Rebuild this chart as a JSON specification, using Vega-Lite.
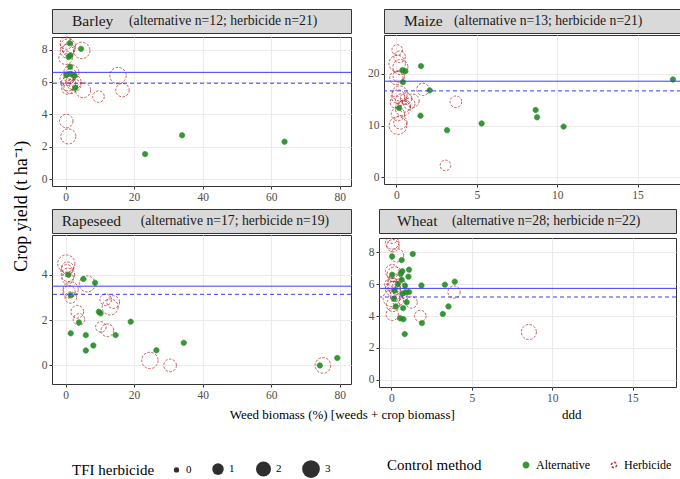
{
  "$schema": "https://vega.github.io/schema/vega-lite/v6.json",
  "background": "white",
  "padding": {"left": 12, "top": 8, "right": 0, "bottom": 2},
  "config": {
    "font": "Liberation Serif, Tinos, Times New Roman, serif",
    "view": {"stroke": "#333333", "strokeWidth": 1},
    "text": {"font": "Liberation Serif, Tinos, Times New Roman, serif"},
    "style": {"guide-label": {"font": "Liberation Serif, Tinos, Times New Roman, serif"}, "guide-title": {"font": "Liberation Serif, Tinos, Times New Roman, serif"}},
    "axis": {"domain": false, "grid": true, "gridColor": "#ebebeb", "gridWidth": 1, "labelColor": "#4d4d4d", "labelFontSize": 11.5, "labelFont": "Liberation Serif, Tinos, Times New Roman, serif", "tickColor": "#333333", "tickSize": 3, "labelPadding": 2, "tickWidth": 1},
    "legend": {"titleOrient": "left", "direction": "horizontal", "titleFont": "Liberation Serif, Tinos, Times New Roman, serif", "titleFontSize": 15, "titleFontWeight": "normal", "titleColor": "black", "labelFont": "Liberation Serif, Tinos, Times New Roman, serif", "labelFontSize": 11, "labelColor": "black"},
    "title": {"fontWeight": "normal", "fontSize": 14, "font": "Liberation Serif, Tinos, Times New Roman, serif", "color": "black"}
  },
  "datasets": {
    "strips": [
      {"crop": "Barley", "info": "(alternative n=12; herbicide n=21)"},
      {"crop": "Maize", "info": "(alternative n=13; herbicide n=21)"},
      {"crop": "Rapeseed", "info": "(alternative n=17; herbicide n=19)"},
      {"crop": "Wheat", "info": "(alternative n=28; herbicide n=22)"}
    ],
    "means": [
      {"crop": "Barley", "herbicide_mean": 6.6, "alternative_mean": 5.93},
      {"crop": "Maize", "herbicide_mean": 18.57, "alternative_mean": 16.7},
      {"crop": "Rapeseed", "herbicide_mean": 3.5, "alternative_mean": 3.14},
      {"crop": "Wheat", "herbicide_mean": 5.73, "alternative_mean": 5.19}
    ],
    "points": [
      {"crop":"Barley","method":"Herbicide","tfi":2.0,"weed":0.7,"yield":8.2},
      {"crop":"Barley","method":"Herbicide","tfi":1.5,"weed":0.4,"yield":7.9},
      {"crop":"Barley","method":"Herbicide","tfi":1.5,"weed":0.0,"yield":7.5},
      {"crop":"Barley","method":"Herbicide","tfi":1.2,"weed":0.9,"yield":8.0},
      {"crop":"Barley","method":"Herbicide","tfi":2.5,"weed":4.7,"yield":7.95},
      {"crop":"Barley","method":"Herbicide","tfi":2.0,"weed":1.7,"yield":6.6},
      {"crop":"Barley","method":"Herbicide","tfi":1.5,"weed":0.3,"yield":6.2},
      {"crop":"Barley","method":"Herbicide","tfi":1.8,"weed":0.8,"yield":5.9},
      {"crop":"Barley","method":"Herbicide","tfi":1.5,"weed":1.5,"yield":5.7},
      {"crop":"Barley","method":"Herbicide","tfi":2.0,"weed":2.3,"yield":6.0},
      {"crop":"Barley","method":"Herbicide","tfi":1.0,"weed":0.5,"yield":5.6},
      {"crop":"Barley","method":"Herbicide","tfi":1.0,"weed":1.2,"yield":6.3},
      {"crop":"Barley","method":"Herbicide","tfi":2.0,"weed":5.1,"yield":5.5},
      {"crop":"Barley","method":"Herbicide","tfi":2.5,"weed":15.3,"yield":6.4},
      {"crop":"Barley","method":"Herbicide","tfi":1.5,"weed":16.6,"yield":5.5},
      {"crop":"Barley","method":"Herbicide","tfi":1.0,"weed":9.6,"yield":5.1},
      {"crop":"Barley","method":"Herbicide","tfi":1.5,"weed":0.2,"yield":3.6},
      {"crop":"Barley","method":"Herbicide","tfi":2.0,"weed":0.8,"yield":2.65},
      {"crop":"Barley","method":"Herbicide","tfi":1.2,"weed":0.2,"yield":8.4},
      {"crop":"Barley","method":"Herbicide","tfi":0.8,"weed":1.5,"yield":6.5},
      {"crop":"Barley","method":"Herbicide","tfi":1.0,"weed":2.8,"yield":5.8},
      {"crop":"Maize","method":"Herbicide","tfi":0.8,"weed":0.05,"yield":24.6},
      {"crop":"Maize","method":"Herbicide","tfi":1.0,"weed":0.2,"yield":23.3},
      {"crop":"Maize","method":"Herbicide","tfi":2.5,"weed":0.05,"yield":22.0},
      {"crop":"Maize","method":"Herbicide","tfi":2.0,"weed":0.25,"yield":21.3},
      {"crop":"Maize","method":"Herbicide","tfi":1.5,"weed":0.0,"yield":19.2},
      {"crop":"Maize","method":"Herbicide","tfi":1.2,"weed":1.65,"yield":17.0},
      {"crop":"Maize","method":"Herbicide","tfi":2.0,"weed":0.2,"yield":16.2},
      {"crop":"Maize","method":"Herbicide","tfi":1.5,"weed":0.1,"yield":15.6},
      {"crop":"Maize","method":"Herbicide","tfi":1.5,"weed":1.0,"yield":14.8},
      {"crop":"Maize","method":"Herbicide","tfi":1.0,"weed":0.6,"yield":15.2},
      {"crop":"Maize","method":"Herbicide","tfi":1.0,"weed":3.7,"yield":14.6},
      {"crop":"Maize","method":"Herbicide","tfi":1.2,"weed":0.0,"yield":14.5},
      {"crop":"Maize","method":"Herbicide","tfi":2.0,"weed":0.4,"yield":13.3},
      {"crop":"Maize","method":"Herbicide","tfi":1.5,"weed":0.1,"yield":12.2},
      {"crop":"Maize","method":"Herbicide","tfi":3.0,"weed":0.1,"yield":10.0},
      {"crop":"Maize","method":"Herbicide","tfi":1.5,"weed":0.25,"yield":10.6},
      {"crop":"Maize","method":"Herbicide","tfi":0.8,"weed":3.05,"yield":2.3},
      {"crop":"Maize","method":"Herbicide","tfi":1.0,"weed":0.8,"yield":14.2},
      {"crop":"Maize","method":"Herbicide","tfi":1.0,"weed":0.3,"yield":15.0},
      {"crop":"Maize","method":"Herbicide","tfi":1.2,"weed":0.5,"yield":13.8},
      {"crop":"Maize","method":"Herbicide","tfi":1.0,"weed":0.15,"yield":19.5},
      {"crop":"Rapeseed","method":"Herbicide","tfi":2.8,"weed":0.2,"yield":4.5},
      {"crop":"Rapeseed","method":"Herbicide","tfi":1.2,"weed":0.6,"yield":4.3},
      {"crop":"Rapeseed","method":"Herbicide","tfi":1.5,"weed":0.7,"yield":4.0},
      {"crop":"Rapeseed","method":"Herbicide","tfi":1.0,"weed":0.6,"yield":3.85},
      {"crop":"Rapeseed","method":"Herbicide","tfi":2.3,"weed":6.3,"yield":3.6},
      {"crop":"Rapeseed","method":"Herbicide","tfi":2.0,"weed":1.5,"yield":3.36},
      {"crop":"Rapeseed","method":"Herbicide","tfi":1.0,"weed":1.5,"yield":3.0},
      {"crop":"Rapeseed","method":"Herbicide","tfi":1.3,"weed":3.4,"yield":2.37},
      {"crop":"Rapeseed","method":"Herbicide","tfi":1.0,"weed":3.9,"yield":2.03},
      {"crop":"Rapeseed","method":"Herbicide","tfi":1.0,"weed":11.7,"yield":2.9},
      {"crop":"Rapeseed","method":"Herbicide","tfi":1.3,"weed":13.9,"yield":2.8},
      {"crop":"Rapeseed","method":"Herbicide","tfi":2.3,"weed":13.0,"yield":2.58},
      {"crop":"Rapeseed","method":"Herbicide","tfi":0.8,"weed":10.3,"yield":1.7},
      {"crop":"Rapeseed","method":"Herbicide","tfi":1.3,"weed":12.2,"yield":1.55},
      {"crop":"Rapeseed","method":"Herbicide","tfi":2.5,"weed":24.6,"yield":0.22},
      {"crop":"Rapeseed","method":"Herbicide","tfi":1.3,"weed":30.5,"yield":0.0},
      {"crop":"Rapeseed","method":"Herbicide","tfi":2.2,"weed":75.1,"yield":0.0},
      {"crop":"Rapeseed","method":"Herbicide","tfi":1.0,"weed":0.3,"yield":4.2},
      {"crop":"Rapeseed","method":"Herbicide","tfi":1.2,"weed":1.0,"yield":3.25},
      {"crop":"Wheat","method":"Herbicide","tfi":1.0,"weed":0.05,"yield":8.9},
      {"crop":"Wheat","method":"Herbicide","tfi":1.5,"weed":0.05,"yield":8.6},
      {"crop":"Wheat","method":"Herbicide","tfi":1.2,"weed":0.1,"yield":8.4},
      {"crop":"Wheat","method":"Herbicide","tfi":1.5,"weed":0.35,"yield":7.8},
      {"crop":"Wheat","method":"Herbicide","tfi":1.5,"weed":0.05,"yield":6.8},
      {"crop":"Wheat","method":"Herbicide","tfi":2.0,"weed":0.2,"yield":6.6},
      {"crop":"Wheat","method":"Herbicide","tfi":1.5,"weed":0.0,"yield":5.95},
      {"crop":"Wheat","method":"Herbicide","tfi":2.0,"weed":0.1,"yield":5.7},
      {"crop":"Wheat","method":"Herbicide","tfi":2.0,"weed":0.6,"yield":5.55},
      {"crop":"Wheat","method":"Herbicide","tfi":1.2,"weed":0.3,"yield":5.3},
      {"crop":"Wheat","method":"Herbicide","tfi":2.5,"weed":0.0,"yield":5.1},
      {"crop":"Wheat","method":"Herbicide","tfi":1.0,"weed":1.25,"yield":4.85},
      {"crop":"Wheat","method":"Herbicide","tfi":1.5,"weed":0.1,"yield":4.7},
      {"crop":"Wheat","method":"Herbicide","tfi":1.2,"weed":0.05,"yield":4.1},
      {"crop":"Wheat","method":"Herbicide","tfi":1.0,"weed":1.8,"yield":4.0},
      {"crop":"Wheat","method":"Herbicide","tfi":1.2,"weed":3.9,"yield":5.5},
      {"crop":"Wheat","method":"Herbicide","tfi":2.0,"weed":8.55,"yield":3.0},
      {"crop":"Wheat","method":"Herbicide","tfi":1.5,"weed":0.2,"yield":6.2},
      {"crop":"Wheat","method":"Herbicide","tfi":1.0,"weed":0.1,"yield":6.0},
      {"crop":"Wheat","method":"Herbicide","tfi":1.5,"weed":0.5,"yield":5.9},
      {"crop":"Wheat","method":"Herbicide","tfi":1.0,"weed":0.4,"yield":5.0},
      {"crop":"Wheat","method":"Herbicide","tfi":1.2,"weed":0.15,"yield":5.8},
      {"crop":"Barley","method":"Alternative","tfi":0,"weed":1.2,"yield":8.4},
      {"crop":"Barley","method":"Alternative","tfi":0,"weed":4.5,"yield":8.05},
      {"crop":"Barley","method":"Alternative","tfi":0,"weed":1.4,"yield":7.65},
      {"crop":"Barley","method":"Alternative","tfi":0,"weed":0.9,"yield":7.55},
      {"crop":"Barley","method":"Alternative","tfi":0,"weed":1.3,"yield":6.95},
      {"crop":"Barley","method":"Alternative","tfi":0,"weed":0.2,"yield":6.45},
      {"crop":"Barley","method":"Alternative","tfi":0,"weed":2.6,"yield":6.4},
      {"crop":"Barley","method":"Alternative","tfi":0,"weed":1.5,"yield":6.5},
      {"crop":"Barley","method":"Alternative","tfi":0,"weed":2.8,"yield":5.65},
      {"crop":"Barley","method":"Alternative","tfi":0,"weed":23.2,"yield":1.56},
      {"crop":"Barley","method":"Alternative","tfi":0,"weed":34.0,"yield":2.72},
      {"crop":"Barley","method":"Alternative","tfi":0,"weed":63.9,"yield":2.32},
      {"crop":"Maize","method":"Alternative","tfi":0,"weed":0.37,"yield":20.7},
      {"crop":"Maize","method":"Alternative","tfi":0,"weed":0.56,"yield":20.5},
      {"crop":"Maize","method":"Alternative","tfi":0,"weed":1.53,"yield":21.5},
      {"crop":"Maize","method":"Alternative","tfi":0,"weed":0.41,"yield":18.4},
      {"crop":"Maize","method":"Alternative","tfi":0,"weed":2.07,"yield":16.8},
      {"crop":"Maize","method":"Alternative","tfi":0,"weed":0.17,"yield":13.4},
      {"crop":"Maize","method":"Alternative","tfi":0,"weed":1.5,"yield":11.9},
      {"crop":"Maize","method":"Alternative","tfi":0,"weed":3.15,"yield":9.1},
      {"crop":"Maize","method":"Alternative","tfi":0,"weed":5.3,"yield":10.4},
      {"crop":"Maize","method":"Alternative","tfi":0,"weed":8.66,"yield":13.0},
      {"crop":"Maize","method":"Alternative","tfi":0,"weed":8.75,"yield":11.6},
      {"crop":"Maize","method":"Alternative","tfi":0,"weed":10.4,"yield":9.8},
      {"crop":"Maize","method":"Alternative","tfi":0,"weed":17.2,"yield":18.9},
      {"crop":"Rapeseed","method":"Alternative","tfi":0,"weed":0.8,"yield":4.0},
      {"crop":"Rapeseed","method":"Alternative","tfi":0,"weed":5.2,"yield":3.82},
      {"crop":"Rapeseed","method":"Alternative","tfi":0,"weed":8.6,"yield":3.65},
      {"crop":"Rapeseed","method":"Alternative","tfi":0,"weed":1.5,"yield":3.1},
      {"crop":"Rapeseed","method":"Alternative","tfi":0,"weed":9.7,"yield":2.37},
      {"crop":"Rapeseed","method":"Alternative","tfi":0,"weed":10.2,"yield":2.3},
      {"crop":"Rapeseed","method":"Alternative","tfi":0,"weed":3.9,"yield":1.9},
      {"crop":"Rapeseed","method":"Alternative","tfi":0,"weed":19.0,"yield":1.93},
      {"crop":"Rapeseed","method":"Alternative","tfi":0,"weed":1.5,"yield":1.42},
      {"crop":"Rapeseed","method":"Alternative","tfi":0,"weed":5.9,"yield":1.34},
      {"crop":"Rapeseed","method":"Alternative","tfi":0,"weed":14.6,"yield":1.34},
      {"crop":"Rapeseed","method":"Alternative","tfi":0,"weed":8.1,"yield":0.88},
      {"crop":"Rapeseed","method":"Alternative","tfi":0,"weed":5.9,"yield":0.66},
      {"crop":"Rapeseed","method":"Alternative","tfi":0,"weed":26.5,"yield":0.67},
      {"crop":"Rapeseed","method":"Alternative","tfi":0,"weed":34.5,"yield":1.0},
      {"crop":"Rapeseed","method":"Alternative","tfi":0,"weed":74.2,"yield":0.0},
      {"crop":"Rapeseed","method":"Alternative","tfi":0,"weed":79.3,"yield":0.33},
      {"crop":"Wheat","method":"Alternative","tfi":0,"weed":1.33,"yield":7.88},
      {"crop":"Wheat","method":"Alternative","tfi":0,"weed":0.05,"yield":7.73},
      {"crop":"Wheat","method":"Alternative","tfi":0,"weed":0.64,"yield":7.5},
      {"crop":"Wheat","method":"Alternative","tfi":0,"weed":1.1,"yield":6.9},
      {"crop":"Wheat","method":"Alternative","tfi":0,"weed":0.68,"yield":6.8},
      {"crop":"Wheat","method":"Alternative","tfi":0,"weed":0.58,"yield":6.65},
      {"crop":"Wheat","method":"Alternative","tfi":0,"weed":0.05,"yield":6.58},
      {"crop":"Wheat","method":"Alternative","tfi":0,"weed":1.06,"yield":6.46},
      {"crop":"Wheat","method":"Alternative","tfi":0,"weed":0.64,"yield":6.27},
      {"crop":"Wheat","method":"Alternative","tfi":0,"weed":1.87,"yield":5.91},
      {"crop":"Wheat","method":"Alternative","tfi":0,"weed":3.33,"yield":5.96},
      {"crop":"Wheat","method":"Alternative","tfi":0,"weed":3.94,"yield":6.15},
      {"crop":"Wheat","method":"Alternative","tfi":0,"weed":0.85,"yield":5.9},
      {"crop":"Wheat","method":"Alternative","tfi":0,"weed":0.9,"yield":5.48},
      {"crop":"Wheat","method":"Alternative","tfi":0,"weed":1.1,"yield":5.5},
      {"crop":"Wheat","method":"Alternative","tfi":0,"weed":0.7,"yield":5.4},
      {"crop":"Wheat","method":"Alternative","tfi":0,"weed":0.17,"yield":5.08},
      {"crop":"Wheat","method":"Alternative","tfi":0,"weed":0.95,"yield":4.86},
      {"crop":"Wheat","method":"Alternative","tfi":0,"weed":0.27,"yield":4.6},
      {"crop":"Wheat","method":"Alternative","tfi":0,"weed":0.73,"yield":4.5},
      {"crop":"Wheat","method":"Alternative","tfi":0,"weed":3.55,"yield":4.6},
      {"crop":"Wheat","method":"Alternative","tfi":0,"weed":3.2,"yield":4.13},
      {"crop":"Wheat","method":"Alternative","tfi":0,"weed":0.54,"yield":3.86},
      {"crop":"Wheat","method":"Alternative","tfi":0,"weed":0.75,"yield":3.8},
      {"crop":"Wheat","method":"Alternative","tfi":0,"weed":1.9,"yield":3.56},
      {"crop":"Wheat","method":"Alternative","tfi":0,"weed":0.83,"yield":2.87},
      {"crop":"Wheat","method":"Alternative","tfi":0,"weed":0.4,"yield":6.0},
      {"crop":"Wheat","method":"Alternative","tfi":0,"weed":0.2,"yield":5.6}
    ]
  },
  "vconcat": [
    {
      "title": {"text": "Weed biomass (%) [weeds + crop biomass]\u00a0\u00a0\u00a0\u00a0\u00a0\u00a0\u00a0\u00a0\u00a0\u00a0\u00a0\u00a0\u00a0\u00a0\u00a0\u00a0\u00a0\u00a0\u00a0\u00a0\u00a0\u00a0\u00a0\u00a0\u00a0\u00a0\u00a0\u00a0\u00a0\u00a0\u00a0\u00a0\u00a0ddd", "orient": "bottom", "anchor": "start", "fontSize": 13, "dx": 217, "offset": 5},
      "vconcat": [
        {
          "title": {"text": "Crop yield (t ha⁻¹)", "orient": "left", "anchor": "middle", "fontSize": 18, "offset": 10},
          "spacing": 5,
          "vconcat": [
            {
              "spacing": 15,
              "hconcat": [
                {
                  "spacing": 0,
                  "vconcat": [
                    {
                      "width": 299, "height": 24,
                      "view": {"fill": "#d9d9d9", "stroke": "#333333"},
                      "data": {"name": "strips"},
                      "transform": [{"filter": "datum.crop === 'Barley'"}],
                      "layer": [
                        {"mark": {"type": "text", "align": "left", "baseline": "middle", "dx": -129.5, "fontSize": 15.5, "color": "#1a1a1a"}, "encoding": {"text": {"field": "crop", "type": "nominal"}}},
                        {"mark": {"type": "text", "align": "left", "baseline": "middle", "dx": -72.5, "fontSize": 13.7, "color": "#1a1a1a"}, "encoding": {"text": {"field": "info", "type": "nominal"}}}
                      ]
                    },
                    {
                      "width": 299, "height": 149,
                      "resolve": {"axis": {"x": "independent", "y": "independent"}},
                      "layer": [
                        {
                          "data": {"name": "points"},
                          "transform": [{"filter": "datum.crop === 'Barley'"}],
                          "mark": {"type": "point", "shape": "circle", "opacity": 0.9, "strokeWidth": 0.8},
                          "encoding": {
                            "x": {"field": "weed", "type": "quantitative", "title": null, "scale": {"domain": [-3.97, 83.3], "nice": false, "zero": false}, "axis": {"orient": "bottom", "values": [0,20,40,60,80]}},
                            "y": {"field": "yield", "type": "quantitative", "title": null, "scale": {"domain": [-0.41, 8.78], "nice": false, "zero": false}, "axis": {"orient": "left", "values": [0,2,4,6,8]}},
                            "fill": {"field": "method", "type": "nominal", "title": "Control method", "scale": {"domain": ["Alternative", "Herbicide"], "range": ["#228B22", "transparent"]}, "legend": {"orient": "none", "legendX": 335, "legendY": 450, "symbolSize": 28, "labelFontSize": 12, "columnPadding": 18, "titlePadding": 38}},
                            "stroke": {"field": "method", "type": "nominal", "title": "Control method", "scale": {"domain": ["Alternative", "Herbicide"], "range": ["#228B22", "#B22222"]}},
                            "strokeDash": {"field": "method", "type": "nominal", "title": "Control method", "scale": {"domain": ["Alternative", "Herbicide"], "range": [[1, 0], [2.5, 1.5]]}},
                            "size": {"field": "tfi", "type": "quantitative", "title": "TFI herbicide", "scale": {"domain": [0, 1, 2, 3], "range": [28, 133, 227, 314]}, "legend": {"orient": "none", "legendX": 20, "legendY": 450, "values": [0, 1, 2, 3], "format": "d", "columnPadding": 17, "titlePadding": 16, "encode": {"symbols": {"update": {"fill": {"value": "black"}, "stroke": {"value": "black"}, "strokeDash": {"value": [1, 0]}, "opacity": {"value": 1}}}}}}
                          }
                        },
                        {
                          "data": {"name": "points"},
                          "transform": [{"filter": "datum.crop === 'Barley'"}],
                          "mark": {"type": "point", "opacity": 0},
                          "encoding": {
                            "x": {"field": "weed", "type": "quantitative", "title": null, "axis": {"orient": "top", "values": [10,30,50,70], "labels": false, "ticks": false, "domain": false, "gridWidth": 0.5}},
                            "y": {"field": "yield", "type": "quantitative", "title": null, "axis": {"orient": "right", "values": [1,3,5,7], "labels": false, "ticks": false, "domain": false, "gridWidth": 0.5}}
                          }
                        },
                        {"data": {"name": "means"}, "transform": [{"filter": "datum.crop === 'Barley'"}], "mark": {"type": "rule", "color": "#3a3aff", "strokeWidth": 1}, "encoding": {"y": {"field": "herbicide_mean", "type": "quantitative", "title": null, "axis": null}}},
                        {"data": {"name": "means"}, "transform": [{"filter": "datum.crop === 'Barley'"}], "mark": {"type": "rule", "color": "#3a3aff", "strokeWidth": 1, "strokeDash": [4, 3]}, "encoding": {"y": {"field": "alternative_mean", "type": "quantitative", "title": null, "axis": null}}}
                      ]
                    }
                  ]
                },
                {
                  "spacing": 0,
                  "vconcat": [
                    {
                      "width": 297, "height": 24,
                      "view": {"fill": "#d9d9d9", "stroke": "#333333"},
                      "data": {"name": "strips"},
                      "transform": [{"filter": "datum.crop === 'Maize'"}],
                      "layer": [
                        {"mark": {"type": "text", "align": "left", "baseline": "middle", "dx": -128.5, "fontSize": 15.5, "color": "#1a1a1a"}, "encoding": {"text": {"field": "crop", "type": "nominal"}}},
                        {"mark": {"type": "text", "align": "left", "baseline": "middle", "dx": -78.5, "fontSize": 13.7, "color": "#1a1a1a"}, "encoding": {"text": {"field": "info", "type": "nominal"}}}
                      ]
                    },
                    {
                      "width": 297, "height": 149,
                      "resolve": {"axis": {"x": "independent", "y": "independent"}},
                      "layer": [
                        {
                          "data": {"name": "points"},
                          "transform": [{"filter": "datum.crop === 'Maize'"}],
                          "mark": {"type": "point", "shape": "circle", "opacity": 0.9, "strokeWidth": 0.8},
                          "encoding": {
                            "x": {"field": "weed", "type": "quantitative", "title": null, "scale": {"domain": [-0.77, 17.7], "nice": false, "zero": false}, "axis": {"orient": "bottom", "values": [0,5,10,15]}},
                            "y": {"field": "yield", "type": "quantitative", "title": null, "scale": {"domain": [-1.3, 27.5], "nice": false, "zero": false}, "axis": {"orient": "left", "values": [0,10,20]}},
                            "fill": {"field": "method", "type": "nominal", "title": "Control method", "scale": {"domain": ["Alternative", "Herbicide"], "range": ["#228B22", "transparent"]}, "legend": {"orient": "none", "legendX": 335, "legendY": 450, "symbolSize": 28, "labelFontSize": 12, "columnPadding": 18, "titlePadding": 38}},
                            "stroke": {"field": "method", "type": "nominal", "title": "Control method", "scale": {"domain": ["Alternative", "Herbicide"], "range": ["#228B22", "#B22222"]}},
                            "strokeDash": {"field": "method", "type": "nominal", "title": "Control method", "scale": {"domain": ["Alternative", "Herbicide"], "range": [[1, 0], [2.5, 1.5]]}},
                            "size": {"field": "tfi", "type": "quantitative", "title": "TFI herbicide", "scale": {"domain": [0, 1, 2, 3], "range": [28, 133, 227, 314]}, "legend": {"orient": "none", "legendX": 20, "legendY": 450, "values": [0, 1, 2, 3], "format": "d", "columnPadding": 17, "titlePadding": 16, "encode": {"symbols": {"update": {"fill": {"value": "black"}, "stroke": {"value": "black"}, "strokeDash": {"value": [1, 0]}, "opacity": {"value": 1}}}}}}
                          }
                        },
                        {
                          "data": {"name": "points"},
                          "transform": [{"filter": "datum.crop === 'Maize'"}],
                          "mark": {"type": "point", "opacity": 0},
                          "encoding": {
                            "x": {"field": "weed", "type": "quantitative", "title": null, "axis": {"orient": "top", "values": [2.5,7.5,12.5,17.5], "labels": false, "ticks": false, "domain": false, "gridWidth": 0.5}},
                            "y": {"field": "yield", "type": "quantitative", "title": null, "axis": {"orient": "right", "values": [5,15,25], "labels": false, "ticks": false, "domain": false, "gridWidth": 0.5}}
                          }
                        },
                        {"data": {"name": "means"}, "transform": [{"filter": "datum.crop === 'Maize'"}], "mark": {"type": "rule", "color": "#3a3aff", "strokeWidth": 1}, "encoding": {"y": {"field": "herbicide_mean", "type": "quantitative", "title": null, "axis": null}}},
                        {"data": {"name": "means"}, "transform": [{"filter": "datum.crop === 'Maize'"}], "mark": {"type": "rule", "color": "#3a3aff", "strokeWidth": 1, "strokeDash": [4, 3]}, "encoding": {"y": {"field": "alternative_mean", "type": "quantitative", "title": null, "axis": null}}}
                      ]
                    }
                  ]
                }
              ]
            },
            {
              "spacing": 15,
              "hconcat": [
                {
                  "spacing": 0,
                  "vconcat": [
                    {
                      "width": 299, "height": 24,
                      "view": {"fill": "#d9d9d9", "stroke": "#333333"},
                      "data": {"name": "strips"},
                      "transform": [{"filter": "datum.crop === 'Rapeseed'"}],
                      "layer": [
                        {"mark": {"type": "text", "align": "left", "baseline": "middle", "dx": -139.8, "fontSize": 15.5, "color": "#1a1a1a"}, "encoding": {"text": {"field": "crop", "type": "nominal"}}},
                        {"mark": {"type": "text", "align": "left", "baseline": "middle", "dx": -60.8, "fontSize": 13.7, "color": "#1a1a1a"}, "encoding": {"text": {"field": "info", "type": "nominal"}}}
                      ]
                    },
                    {
                      "width": 299, "height": 149,
                      "resolve": {"axis": {"x": "independent", "y": "independent"}},
                      "layer": [
                        {
                          "data": {"name": "points"},
                          "transform": [{"filter": "datum.crop === 'Rapeseed'"}],
                          "mark": {"type": "point", "shape": "circle", "opacity": 0.9, "strokeWidth": 0.8},
                          "encoding": {
                            "x": {"field": "weed", "type": "quantitative", "title": null, "scale": {"domain": [-3.97, 83.3], "nice": false, "zero": false}, "axis": {"orient": "bottom", "values": [0,20,40,60,80]}},
                            "y": {"field": "yield", "type": "quantitative", "title": null, "scale": {"domain": [-0.82, 5.76], "nice": false, "zero": false}, "axis": {"orient": "left", "values": [0,2,4]}},
                            "fill": {"field": "method", "type": "nominal", "title": "Control method", "scale": {"domain": ["Alternative", "Herbicide"], "range": ["#228B22", "transparent"]}, "legend": {"orient": "none", "legendX": 335, "legendY": 450, "symbolSize": 28, "labelFontSize": 12, "columnPadding": 18, "titlePadding": 38}},
                            "stroke": {"field": "method", "type": "nominal", "title": "Control method", "scale": {"domain": ["Alternative", "Herbicide"], "range": ["#228B22", "#B22222"]}},
                            "strokeDash": {"field": "method", "type": "nominal", "title": "Control method", "scale": {"domain": ["Alternative", "Herbicide"], "range": [[1, 0], [2.5, 1.5]]}},
                            "size": {"field": "tfi", "type": "quantitative", "title": "TFI herbicide", "scale": {"domain": [0, 1, 2, 3], "range": [28, 133, 227, 314]}, "legend": {"orient": "none", "legendX": 20, "legendY": 450, "values": [0, 1, 2, 3], "format": "d", "columnPadding": 17, "titlePadding": 16, "encode": {"symbols": {"update": {"fill": {"value": "black"}, "stroke": {"value": "black"}, "strokeDash": {"value": [1, 0]}, "opacity": {"value": 1}}}}}}
                          }
                        },
                        {
                          "data": {"name": "points"},
                          "transform": [{"filter": "datum.crop === 'Rapeseed'"}],
                          "mark": {"type": "point", "opacity": 0},
                          "encoding": {
                            "x": {"field": "weed", "type": "quantitative", "title": null, "axis": {"orient": "top", "values": [10,30,50,70], "labels": false, "ticks": false, "domain": false, "gridWidth": 0.5}},
                            "y": {"field": "yield", "type": "quantitative", "title": null, "axis": {"orient": "right", "values": [1,3,5], "labels": false, "ticks": false, "domain": false, "gridWidth": 0.5}}
                          }
                        },
                        {"data": {"name": "means"}, "transform": [{"filter": "datum.crop === 'Rapeseed'"}], "mark": {"type": "rule", "color": "#3a3aff", "strokeWidth": 1}, "encoding": {"y": {"field": "herbicide_mean", "type": "quantitative", "title": null, "axis": null}}},
                        {"data": {"name": "means"}, "transform": [{"filter": "datum.crop === 'Rapeseed'"}], "mark": {"type": "rule", "color": "#3a3aff", "strokeWidth": 1, "strokeDash": [4, 3]}, "encoding": {"y": {"field": "alternative_mean", "type": "quantitative", "title": null, "axis": null}}}
                      ]
                    }
                  ]
                },
                {
                  "spacing": 0,
                  "vconcat": [
                    {
                      "width": 297, "height": 24,
                      "view": {"fill": "#d9d9d9", "stroke": "#333333"},
                      "data": {"name": "strips"},
                      "transform": [{"filter": "datum.crop === 'Wheat'"}],
                      "layer": [
                        {"mark": {"type": "text", "align": "left", "baseline": "middle", "dx": -130.5, "fontSize": 15.5, "color": "#1a1a1a"}, "encoding": {"text": {"field": "crop", "type": "nominal"}}},
                        {"mark": {"type": "text", "align": "left", "baseline": "middle", "dx": -75.5, "fontSize": 13.7, "color": "#1a1a1a"}, "encoding": {"text": {"field": "info", "type": "nominal"}}}
                      ]
                    },
                    {
                      "width": 297, "height": 149,
                      "resolve": {"axis": {"x": "independent", "y": "independent"}},
                      "layer": [
                        {
                          "data": {"name": "points"},
                          "transform": [{"filter": "datum.crop === 'Wheat'"}],
                          "mark": {"type": "point", "shape": "circle", "opacity": 0.9, "strokeWidth": 0.8, "clip": true},
                          "encoding": {
                            "x": {"field": "weed", "type": "quantitative", "title": null, "scale": {"domain": [-0.77, 17.7], "nice": false, "zero": false}, "axis": {"orient": "bottom", "values": [0,5,10,15]}},
                            "y": {"field": "yield", "type": "quantitative", "title": null, "scale": {"domain": [-0.44, 8.88], "nice": false, "zero": false}, "axis": {"orient": "left", "values": [0,2,4,6,8]}},
                            "fill": {"field": "method", "type": "nominal", "title": "Control method", "scale": {"domain": ["Alternative", "Herbicide"], "range": ["#228B22", "transparent"]}, "legend": {"orient": "none", "legendX": 335, "legendY": 450, "symbolSize": 28, "labelFontSize": 12, "columnPadding": 18, "titlePadding": 38}},
                            "stroke": {"field": "method", "type": "nominal", "title": "Control method", "scale": {"domain": ["Alternative", "Herbicide"], "range": ["#228B22", "#B22222"]}},
                            "strokeDash": {"field": "method", "type": "nominal", "title": "Control method", "scale": {"domain": ["Alternative", "Herbicide"], "range": [[1, 0], [2.5, 1.5]]}},
                            "size": {"field": "tfi", "type": "quantitative", "title": "TFI herbicide", "scale": {"domain": [0, 1, 2, 3], "range": [28, 133, 227, 314]}, "legend": {"orient": "none", "legendX": 20, "legendY": 450, "values": [0, 1, 2, 3], "format": "d", "columnPadding": 17, "titlePadding": 16, "encode": {"symbols": {"update": {"fill": {"value": "black"}, "stroke": {"value": "black"}, "strokeDash": {"value": [1, 0]}, "opacity": {"value": 1}}}}}}
                          }
                        },
                        {
                          "data": {"name": "points"},
                          "transform": [{"filter": "datum.crop === 'Wheat'"}],
                          "mark": {"type": "point", "opacity": 0},
                          "encoding": {
                            "x": {"field": "weed", "type": "quantitative", "title": null, "axis": {"orient": "top", "values": [2.5,7.5,12.5,17.5], "labels": false, "ticks": false, "domain": false, "gridWidth": 0.5}},
                            "y": {"field": "yield", "type": "quantitative", "title": null, "axis": {"orient": "right", "values": [1,3,5,7], "labels": false, "ticks": false, "domain": false, "gridWidth": 0.5}}
                          }
                        },
                        {"data": {"name": "means"}, "transform": [{"filter": "datum.crop === 'Wheat'"}], "mark": {"type": "rule", "color": "#3a3aff", "strokeWidth": 1}, "encoding": {"y": {"field": "herbicide_mean", "type": "quantitative", "title": null, "axis": null}}},
                        {"data": {"name": "means"}, "transform": [{"filter": "datum.crop === 'Wheat'"}], "mark": {"type": "rule", "color": "#3a3aff", "strokeWidth": 1, "strokeDash": [4, 3]}, "encoding": {"y": {"field": "alternative_mean", "type": "quantitative", "title": null, "axis": null}}}
                      ]
                    }
                  ]
                }
              ]
            }
          ]
        }
      ]
    }
  ]
}
